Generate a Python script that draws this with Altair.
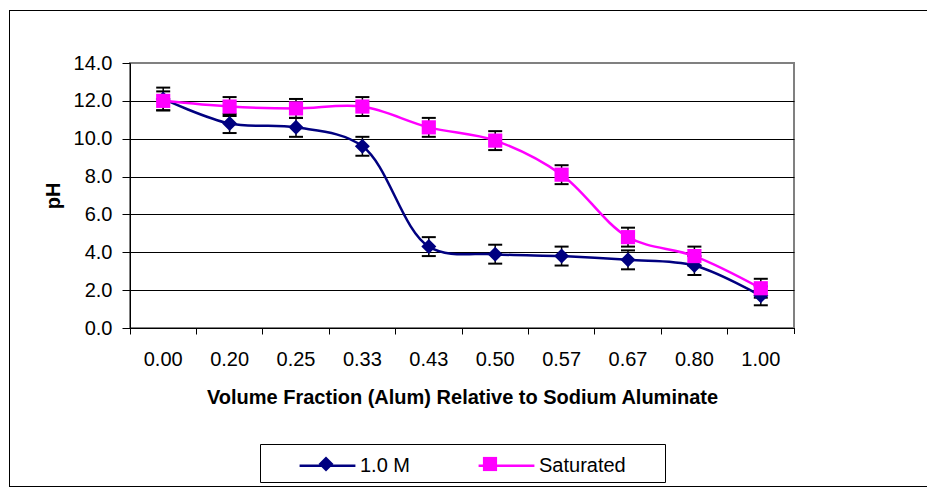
import altair as alt
import pandas as pd

# ---- data ----
cats = ["0.00", "0.20", "0.25", "0.33", "0.43", "0.50", "0.57", "0.67", "0.80", "1.00"]
ph_1m = [12.1, 10.8, 10.6, 9.6, 4.3, 3.9, 3.8, 3.6, 3.3, 1.7]
err_1m = [0.6, 0.5, 0.5, 0.5, 0.5, 0.5, 0.5, 0.5, 0.5, 0.5]
ph_sat = [12.0, 11.7, 11.6, 11.7, 10.6, 9.9, 8.1, 4.8, 3.8, 2.1]
err_sat = [0.5, 0.5, 0.5, 0.5, 0.5, 0.5, 0.5, 0.5, 0.5, 0.5]
series_names = ["1.0 M", "Saturated"]
series_colors = ["#000080", "#FF00FF"]
y_ticks = [0, 2, 4, 6, 8, 10, 12, 14]

rows = []
for name, vals, errs in [(series_names[0], ph_1m, err_1m), (series_names[1], ph_sat, err_sat)]:
    for i, (c, v, e) in enumerate(zip(cats, vals, errs)):
        rows.append({"frac": c, "idx": i, "series": name, "ph": v, "lo": v - e, "hi": v + e})
df = pd.DataFrame(rows)

FONT = "Liberation Sans"

x_axis = alt.Axis(
    title="Volume Fraction (Alum) Relative to Sodium Aluminate",
    labelAngle=0,
    bandPosition=0,
    tickSize=6,
    tickColor="black",
    domainColor="black",
    labelPadding=15,
    labelFontSize=20,
    labelColor="black",
    titleFontSize=20,
    titleFontWeight="bold",
    titleColor="black",
    titleY=75,
    titleBaseline="alphabetic",
    grid=False,
)
x_scale = alt.Scale(domain=cats, paddingInner=0, paddingOuter=0)
x_enc = alt.X("frac:N", sort=cats, scale=x_scale, axis=x_axis)

y_axis = alt.Axis(
    title="pH",
    values=y_ticks,
    format=".1f",
    labelOverlap=False,
    tickSize=8,
    tickColor="black",
    domainColor="black",
    labelPadding=10,
    labelFontSize=20,
    labelColor="black",
    titleFontSize=20,
    titleFontWeight="bold",
    titleColor="black",
    titleX=-77,
    titleBaseline="middle",
    titleAngle=-90,
    grid=True,
    gridColor="black",
    gridOpacity=alt.condition("datum.value == 14 || datum.value == 0", alt.value(0), alt.value(1)),
)
y_scale = alt.Scale(domain=[0, 14], nice=False)


def yq(field):
    return alt.Y(f"{field}:Q", scale=y_scale, axis=y_axis)


base = alt.Chart(df)

# marker shapes (custom paths, drawn at size MARK_SIZE -> 1 unit = sqrt(size)/2 px)
MARK_SIZE = 1736
path_diamond = "M-0.36,0L0,-0.36L0.36,0L0,0.36Z"
path_square = "M-0.34,-0.34L0.34,-0.34L0.34,0.34L-0.34,0.34Z"
path_line = "M-1.34,0L1.34,0"

legend_common = dict(
    title=None,
    orient="none",
    legendX=175,
    legendY=380,
    direction="horizontal",
    labelFont=FONT,
    labelFontSize=20,
    labelColor="black",
    labelOffset=10,
    symbolSize=MARK_SIZE,
    padding=0,
)
# legend A: line part of the symbol + labels (from the line layer)
leg_line = alt.Legend(symbolType=path_line, symbolStrokeWidth=2.5, columnPadding=62, **legend_common)
# legend B: marker part of the symbol only, laid on top of legend A
leg_mark = alt.Legend(labelExpr="''", symbolStrokeWidth=0, columnPadding=112, **legend_common)

lines = base.mark_line(interpolate="catmull-rom", strokeWidth=2.5).encode(
    x=x_enc, y=yq("ph"),
    color=alt.Color("series:N", scale=alt.Scale(domain=series_names, range=series_colors), legend=leg_line),
    order="idx:Q",
)

stems = base.mark_rule(color="black", strokeWidth=1.5).encode(
    x=x_enc, y=yq("lo"), y2="hi:Q"
)

caps = base.transform_fold(["lo", "hi"], as_=["k", "v"]).mark_tick(
    color="black", thickness=2, size=14, opacity=1
).encode(x=x_enc, y=yq("v"))

points = base.mark_point(filled=True, size=MARK_SIZE, opacity=1, strokeWidth=0).encode(
    x=x_enc, y=yq("ph"),
    fill=alt.Fill("series:N", scale=alt.Scale(range=series_colors), legend=leg_mark),
    shape=alt.Shape("series:N", scale=alt.Scale(range=[path_diamond, path_square]), legend=leg_mark),
)

# decorative frames (outer chart border, legend box, last category tick)
deco = alt.Chart(pd.DataFrame({"a": [0]}))
frame_top = deco.mark_rule(color="black", strokeWidth=1).encode(
    x=alt.value(-121), x2=alt.value(900), y=alt.value(-52.5)
)
frame_left = deco.mark_rule(color="black", strokeWidth=1).encode(
    x=alt.value(-120.5), y=alt.value(-53), y2=alt.value(424)
)
frame_bottom = deco.mark_rule(color="black", strokeWidth=1).encode(
    x=alt.value(-121), x2=alt.value(900), y=alt.value(423.5)
)
legend_box = deco.mark_rect(fill="transparent", stroke="black", strokeWidth=1).encode(
    x=alt.value(130.5), x2=alt.value(535.5), y=alt.value(381.5), y2=alt.value(419.5)
)
last_tick = deco.mark_rule(color="black", strokeWidth=1).encode(
    x=alt.value(664.5), y=alt.value(265), y2=alt.value(271)
)

chart = alt.layer(
    frame_top, frame_left, frame_bottom, legend_box, lines, stems, caps, points, last_tick
).properties(
    width=664,
    height=265,
    autosize=alt.AutoSizeParams(type="none"),
    padding={"left": 122, "top": 55, "right": 133, "bottom": 159},
).configure(
    font=FONT,
).configure_view(
    stroke="#808080", strokeWidth=2
)

chart.save("out.html", embed_options={"renderer": "svg", "actions": False})
